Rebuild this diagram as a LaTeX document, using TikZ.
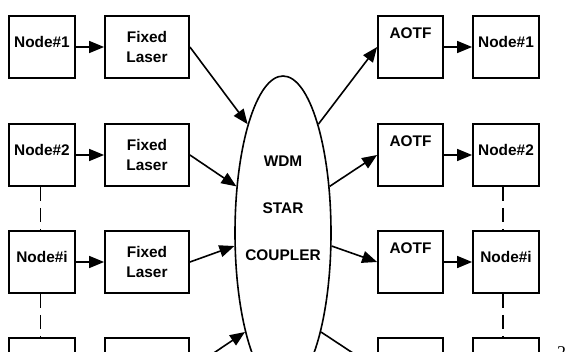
\documentclass[tikz,border=0pt]{standalone}
\usepackage{fontspec}
\setmainfont{Liberation Sans}
\newfontfamily\pagefont{Liberation Serif}
\usetikzlibrary{shapes.geometric, arrows.meta}

\tikzset{
  box/.style={draw, line width=1.8pt, minimum height=62pt, inner sep=0pt,
    align=center, font=\bfseries\fontsize{15.4}{20}\selectfont},
  nodebox/.style={box, minimum width=66pt, text height=11pt, text depth=10pt},
  laserbox/.style={box, minimum width=84pt},
  aotfbox/.style={box, minimum width=65pt, text height=11pt, text depth=28pt},
  link/.style={line width=1.6pt, -{Triangle[length=15pt, width=12pt]}},
  chain/.style={line width=1.8pt, dash pattern=on 14pt off 7pt}
}

\begin{document}
\begin{tikzpicture}[x=1pt, y=-1pt]

  % ── Frame (the page is cut off at the bottom) ──────────────────────
  \useasboundingbox (0,0) rectangle (575,351);
  \clip (0,0) rectangle (575,351);

  % ── Layout ──────────────────────────────────────────────────────────
  \def\xN{42}      % sending nodes
  \def\xL{147}     % fixed lasers
  \def\xA{410.5}   % AOTFs
  \def\xR{506}     % receiving nodes

  % Row centres (y, downwards)
  \def\yA{47}      % node 1
  \def\yB{155}     % node 2
  \def\yC{262}     % node i
  \def\yD{369}     % last node

  % ── Star coupler ─────────────────────────────────────────────────────
  \node[ellipse, draw, line width=1.6pt, minimum width=96pt,
    minimum height=314pt, inner sep=0pt] (wsc) at (283,233) {};
  \node[font=\bfseries\fontsize{15.4}{47}\selectfont, align=center,
    inner sep=0pt] (wsctext) at (283,208.5) {WDM\\STAR\\COUPLER};

  % ── Transmit side ────────────────────────────────────────────────────
  \node[nodebox] (tx1) at (\xN,\yA) {Node\#1};
  \node[nodebox] (tx2) at (\xN,\yB) {Node\#2};
  \node[nodebox] (txi) at (\xN,\yC) {Node\#i};
  \node[nodebox] (txn) at (\xN,\yD) {};

  \node[laserbox] (fl1) at (\xL,\yA) {Fixed\\Laser};
  \node[laserbox] (fl2) at (\xL,\yB) {Fixed\\Laser};
  \node[laserbox] (fli) at (\xL,\yC) {Fixed\\Laser};
  \node[laserbox] (fln) at (\xL,\yD) {};

  \foreach \r in {1,2,i} {
    \draw[link] (tx\r) -- (fl\r);
  }

  % ── Receive side ─────────────────────────────────────────────────────
  \node[aotfbox] (af1) at (\xA,\yA) {AOTF};
  \node[aotfbox] (af2) at (\xA,\yB) {AOTF};
  \node[aotfbox] (afi) at (\xA,\yC) {AOTF};
  \node[aotfbox] (afn) at (\xA,\yD) {};

  \node[nodebox] (rx1) at (\xR,\yA) {Node\#1};
  \node[nodebox] (rx2) at (\xR,\yB) {Node\#2};
  \node[nodebox] (rxi) at (\xR,\yC) {Node\#i};
  \node[nodebox] (rxn) at (\xR,\yD) {};

  \foreach \r in {1,2,i} {
    \draw[link] (af\r) -- (rx\r);
  }

  % ── Into and out of the coupler ──────────────────────────────────────
  \draw[link] (fl1.east) -- (wsc.108);
  \draw[link] (fl2.east) -- (wsc.135);
  \draw[link] (fli.east) -- (wsc.195);
  \draw[link] (fln.east) -- (wsc.249);

  \draw[link] (wsc.72)  -- (af1.west);
  \draw[link] (wsc.45)  -- (af2.west);
  \draw[link] (wsc.-15) -- (afi.west);
  \draw[link] (wsc.-69) -- (afn.west);

  % ── Omitted nodes ────────────────────────────────────────────────────
  \draw[chain] ([xshift=-1.5pt]tx2.south) -- ([xshift=-1.5pt]txi.north);
  \draw[chain] ([xshift=-1.5pt]txi.south) -- ([xshift=-1.5pt]txn.north);
  \draw[chain] ([xshift=-3pt]rx2.south) -- ([xshift=-3pt]rxi.north);
  \draw[chain] ([xshift=-3pt]rxi.south) -- ([xshift=-3pt]rxn.north);

  % page number, cut off
  \node[font=\pagefont\fontsize{18}{20}\selectfont, anchor=base west,
    inner sep=0pt] (pgnum) at (557,358) {2};

\end{tikzpicture}
\end{document}
